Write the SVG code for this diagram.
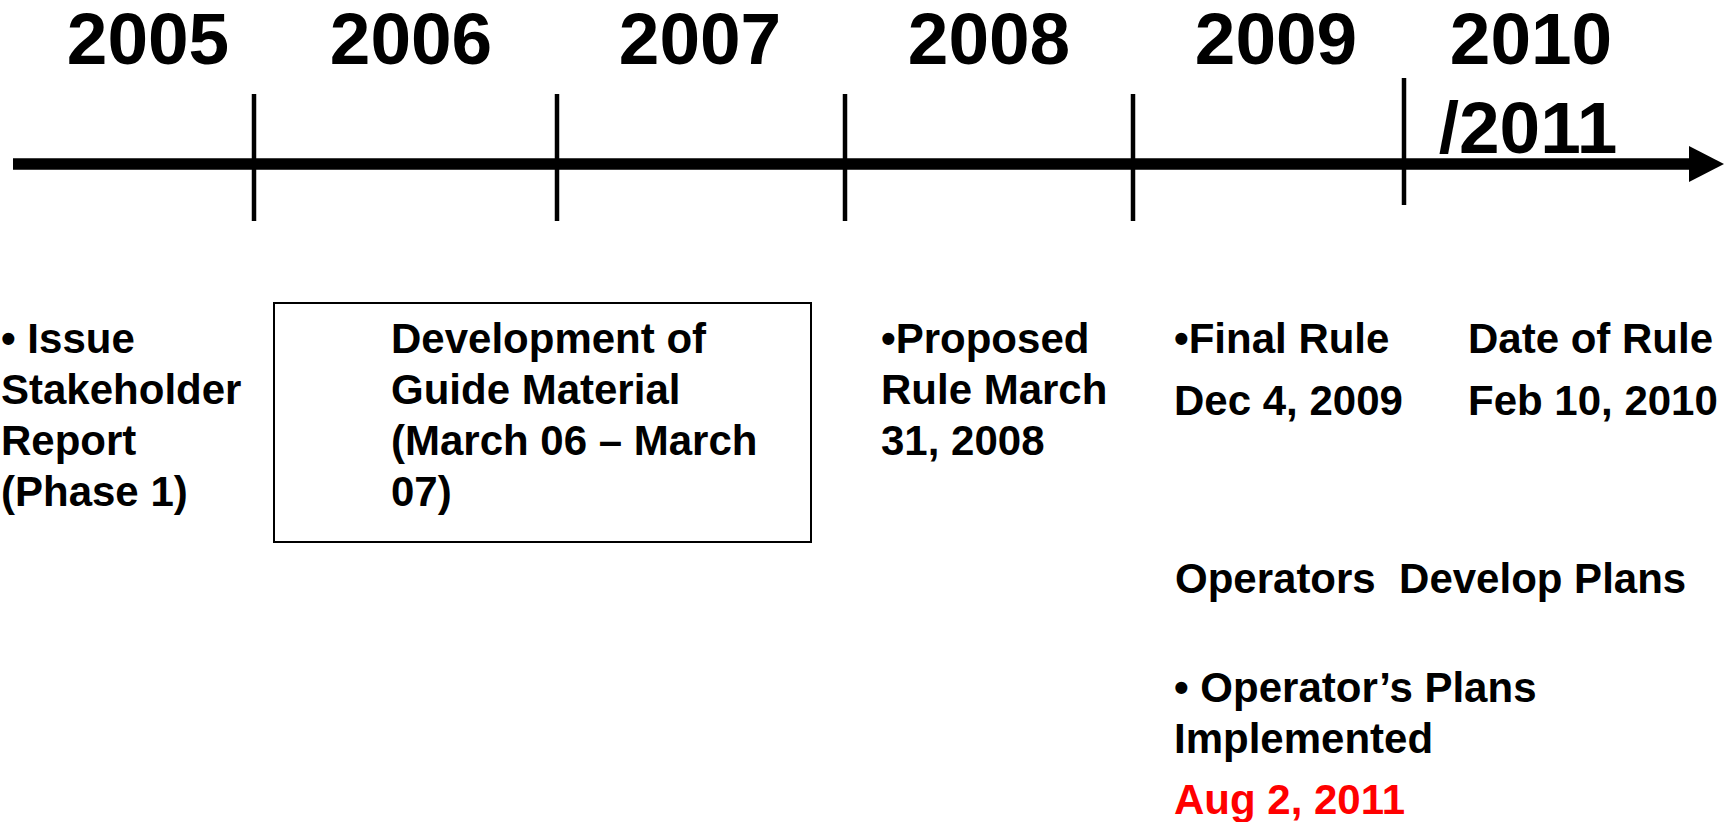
<svg xmlns="http://www.w3.org/2000/svg" width="1731" height="822" viewBox="0 0 1731 822">
<style>
.yr{font-family:"Liberation Sans",Arial,sans-serif;font-weight:bold;font-size:73px;fill:#000;text-anchor:middle}
.t{font-family:"Liberation Sans",Arial,sans-serif;font-weight:bold;font-size:42px;fill:#000;white-space:pre}
.red{fill:#ff0000}
.tick{stroke:#000;stroke-width:4.5}
</style>
<rect width="1731" height="822" fill="#fff"/>
<g id="connectors">
<line x1="13" y1="164" x2="1692" y2="164" stroke="#000" stroke-width="11.5"/>
<polygon points="1689,146 1724,164 1689,182" fill="#000"/>
<line class="tick" x1="254" y1="94" x2="254" y2="221"/>
<line class="tick" x1="557" y1="94" x2="557" y2="221"/>
<line class="tick" x1="845" y1="94" x2="845" y2="221"/>
<line class="tick" x1="1133" y1="94" x2="1133" y2="221"/>
<line class="tick" x1="1404" y1="78" x2="1404" y2="205"/>
</g>
<g id="years">
<text class="yr" x="148" y="64">2005</text>
<text class="yr" x="411" y="64">2006</text>
<text class="yr" x="700" y="64">2007</text>
<text class="yr" x="989" y="64">2008</text>
<text class="yr" x="1276" y="64">2009</text>
<text class="yr" x="1531" y="64">2010</text>
<text class="yr" x="1528" y="153">/2011</text>
</g>
<g id="node-issue">
<text class="t" x="1" y="353">• Issue</text>
<text class="t" x="1" y="404">Stakeholder</text>
<text class="t" x="1" y="455">Report</text>
<text class="t" x="1" y="506">(Phase 1)</text>
</g>
<g id="node-guide">
<rect x="274" y="303" width="537" height="239" fill="none" stroke="#000" stroke-width="2"/>
<text class="t" x="391" y="353">Development of</text>
<text class="t" x="391" y="404">Guide Material</text>
<text class="t" x="391" y="455">(March 06 – March</text>
<text class="t" x="391" y="506">07)</text>
</g>
<g id="node-proposed">
<text class="t" x="881" y="353">•Proposed</text>
<text class="t" x="881" y="404">Rule March</text>
<text class="t" x="881" y="455">31, 2008</text>
</g>
<g id="node-final">
<text class="t" x="1174" y="353">•Final Rule</text>
<text class="t" x="1174" y="415">Dec 4, 2009</text>
</g>
<g id="node-date">
<text class="t" x="1468" y="353">Date of Rule</text>
<text class="t" x="1468" y="415">Feb 10, 2010</text>
</g>
<g id="node-operators">
<text class="t" x="1175" y="593" xml:space="preserve">Operators  Develop Plans</text>
</g>
<g id="node-implemented">
<text class="t" x="1174" y="702">• Operator’s Plans</text>
<text class="t" x="1174" y="753">Implemented</text>
<text class="t red" x="1174" y="814">Aug 2, 2011</text>
</g>
</svg>
